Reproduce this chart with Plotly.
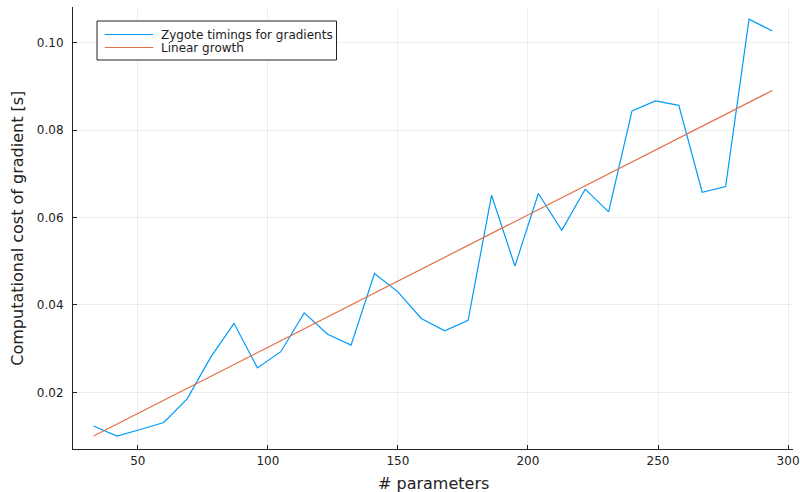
import plotly.graph_objects as go

# Number of parameters in each benchmarked model
n_params = [33, 42, 51, 60, 69, 78, 87, 96, 105, 114, 123, 132, 141, 150, 159,
            168, 177, 186, 195, 204, 213, 222, 231, 240, 249, 258, 267, 276, 285, 294]

# Measured gradient cost in seconds
grad_time = [0.0123, 0.0100, 0.0115, 0.0131, 0.0185, 0.0280, 0.0358, 0.0256, 0.0293, 0.0382,
             0.0333, 0.0308, 0.0472, 0.0430, 0.0369, 0.0341, 0.0365, 0.0651, 0.0489, 0.0655,
             0.0571, 0.0665, 0.0613, 0.0844, 0.0867, 0.0857, 0.0658, 0.0671, 0.1054, 0.1027]

# Reference line for linear growth (end points)
linear_x = [33, 294]
linear_y = [0.0100, 0.0891]

x_ticks = [50, 100, 150, 200, 250, 300]
y_ticks = [0.02, 0.04, 0.06, 0.08, 0.10]
y_tick_text = ["0.02", "0.04", "0.06", "0.08", "0.10"]

series_names = ["Zygote timings for gradients", "Linear growth"]
colors = ["#009AFA", "#E26F46"]
x_title = "# parameters"
y_title = "Computational cost of gradient [s]"

W, H = 800, 492
L, R, T, B = 73.3, 7, 7, 43
pw, ph = W - L - R, H - T - B


def px(X):
    return (X - L) / pw


def py(Y):
    return (H - B - Y) / ph


fig = go.Figure()
fig.add_trace(go.Scatter(x=n_params, y=grad_time, mode="lines", name=series_names[0],
                         line=dict(color=colors[0], width=1.2)))
fig.add_trace(go.Scatter(x=linear_x, y=linear_y, mode="lines", name=series_names[1],
                         line=dict(color=colors[1], width=1.2)))

font = "DejaVu Sans, sans-serif"
ink = "#222"
axis_common = dict(
    automargin=False,
    showgrid=True, gridcolor="rgba(0,0,0,0.07)", gridwidth=0.6,
    showline=True, linecolor=ink, linewidth=1.1,
    ticks="inside", ticklen=4, tickcolor=ink, tickwidth=1,
    zeroline=False, mirror=False,
    tickfont=dict(family=font, size=12, color=ink),
)

fig.update_layout(
    width=W, height=H,
    margin=dict(l=L, r=R, t=T, b=B),
    paper_bgcolor="white", plot_bgcolor="white",
    showlegend=False,
    xaxis=dict(range=[25.1, 301.9], tickvals=x_ticks, ticklabelstandoff=1, **axis_common),
    yaxis=dict(range=[0.00703, 0.1082], tickvals=y_ticks, ticktext=y_tick_text,
               ticklabelstandoff=6, **axis_common),
)

# Axis titles
fig.add_annotation(xref="paper", yref="paper", x=0.5, y=py(483.3), text=x_title,
                   showarrow=False, xanchor="center", yanchor="middle",
                   font=dict(family=font, size=16, color=ink))
fig.add_annotation(xref="paper", yref="paper", x=px(17), y=0.5, text=y_title,
                   showarrow=False, xanchor="center", yanchor="middle", textangle=-90,
                   font=dict(family=font, size=16, color=ink))

# Legend box drawn in the upper-left corner
bx0, bx1, by0, by1 = 97.3, 336.7, 21, 60
fig.add_shape(type="rect", xref="paper", yref="paper",
              x0=px(bx0), x1=px(bx1), y0=py(by1), y1=py(by0),
              line=dict(color=ink, width=1), fillcolor="white", layer="above")
rows = [34.5, 47.5]
for name, col, yy in zip(series_names, colors, rows):
    fig.add_shape(type="line", xref="paper", yref="paper",
                  x0=px(105), x1=px(153.5), y0=py(yy), y1=py(yy),
                  line=dict(color=col, width=1.2), layer="above")
    fig.add_annotation(xref="paper", yref="paper", x=px(159), y=py(yy),
                       text=name, showarrow=False, xanchor="left", yanchor="middle",
                       font=dict(family=font, size=12, color=ink))

fig.write_html("out.html")
